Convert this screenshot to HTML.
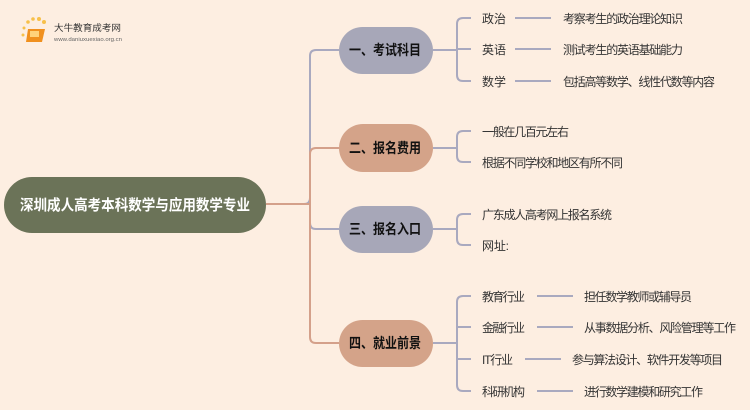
<!DOCTYPE html>
<html><head><meta charset="utf-8"><style>
html,body{margin:0;padding:0;background:#fdeee1;}
svg{display:block}
text{font-family:"Liberation Sans","Noto Sans CJK SC",sans-serif;}
</style></head><body>
<svg width="750" height="410" viewBox="0 0 750 410" xmlns="http://www.w3.org/2000/svg">
<rect width="750" height="410" fill="#fdeee1"/>
<g>
<circle cx="24" cy="28" r="1.5" fill="#f7c04a"/><circle cx="28" cy="22" r="1.8" fill="#f7c04a"/>
<circle cx="33" cy="19" r="1.8" fill="#f7c04a"/><circle cx="39" cy="19" r="2" fill="#f7c04a"/>
<circle cx="44" cy="22" r="2" fill="#f7c04a"/><circle cx="23" cy="35" r="1.5" fill="#f7c04a"/>
<path d="M28 29 L45 29 L42 42 L26 42 Z" fill="#f0901e"/>
<rect x="30" y="31" width="9" height="6" fill="#ffd27a"/>
<text x="54" y="31" font-size="9" fill="#333" textLength="67" lengthAdjust="spacingAndGlyphs">大牛教育成考网</text>
<text x="54" y="41" font-size="5" fill="#666" textLength="68" lengthAdjust="spacingAndGlyphs">www.daniuxuexiao.org.cn</text>
</g>
<g fill="none" stroke-width="2">
<path d="M266 204 H304 Q310 204 310 198 V56 Q310 50 316 50 H339" stroke="#a9a9bf"/>
<path d="M310 204 V223 Q310 229 316 229 H339" stroke="#a9a9bf"/>
<path d="M266 204 H310 V154 Q310 148 316 148 H339" stroke="#d4a08a"/>
<path d="M310 204 V337 Q310 343 316 343 H339" stroke="#d4a08a"/>
<g stroke="#a9a9bf">
<path d="M433 50 H457"/><path d="M471 18 H463 Q457 18 457 24 V75 Q457 81 463 81 H471"/><path d="M457 49 H471"/>
<path d="M515 18 H551 M515 49 H551 M515 81 H551"/>
<path d="M433 148 H457"/><path d="M471 131 H463 Q457 131 457 137 V156 Q457 162 463 162 H471"/>
<path d="M433 229 H457"/><path d="M471 214 H463 Q457 214 457 220 V239 Q457 245 463 245 H471"/>
<path d="M433 343 H457"/><path d="M471 296 H463 Q457 296 457 302 V385 Q457 391 463 391 H471"/><path d="M457 327 H471 M457 359 H471"/>
<path d="M537 296 H573 M537 327 H573 M525 359 H561 M537 391 H573"/>
</g>
</g>
<rect x="4" y="177" width="262" height="56" rx="28" fill="#6b7358"/>
<text x="20" y="210" font-size="15" font-weight="bold" fill="#fff" textLength="230" lengthAdjust="spacingAndGlyphs">深圳成人高考本科数学与应用数学专业</text>
<g font-size="14" font-weight="bold" fill="#111">
<rect x="339" y="27" width="94" height="47" rx="23.5" fill="#a7a7b8"/><text x="349" y="55" textLength="72" lengthAdjust="spacingAndGlyphs">一、考试科目</text>
<rect x="339" y="124" width="94" height="48" rx="24" fill="#d4a389"/><text x="349" y="153" textLength="72" lengthAdjust="spacingAndGlyphs">二、报名费用</text>
<rect x="339" y="206" width="94" height="47" rx="23.5" fill="#a7a7b8"/><text x="349" y="234" textLength="72" lengthAdjust="spacingAndGlyphs">三、报名入口</text>
<rect x="339" y="320" width="94" height="47" rx="23.5" fill="#d4a389"/><text x="349" y="348" textLength="72" lengthAdjust="spacingAndGlyphs">四、就业前景</text>
</g>
<g font-size="12" fill="#333" lengthAdjust="spacingAndGlyphs">
<text x="482" y="23" textLength="24">政治</text><text x="563" y="23" textLength="120">考察考生的政治理论知识</text>
<text x="482" y="54" textLength="24">英语</text><text x="563" y="54" textLength="120">测试考生的英语基础能力</text>
<text x="482" y="86" textLength="24">数学</text><text x="563" y="86" textLength="152">包括高等数学、线性代数等内容</text>
<text x="482" y="136" textLength="87">一般在几百元左右</text>
<text x="482" y="167" textLength="141">根据不同学校和地区有所不同</text>
<text x="482" y="219" textLength="130">广东成人高考网上报名系统</text>
<text x="482" y="250" textLength="27">网址:</text>
<text x="482" y="301" textLength="43">教育行业</text><text x="584" y="301" textLength="108">担任数学教师或辅导员</text>
<text x="482" y="332" textLength="43">金融行业</text><text x="584" y="332" textLength="152">从事数据分析、风险管理等工作</text>
<text x="482" y="364" textLength="31">IT行业</text><text x="572" y="364" textLength="151">参与算法设计、软件开发等项目</text>
<text x="482" y="396" textLength="43">科研机构</text><text x="584" y="396" textLength="119">进行数学建模和研究工作</text>
</g>
</svg>
</body></html>
